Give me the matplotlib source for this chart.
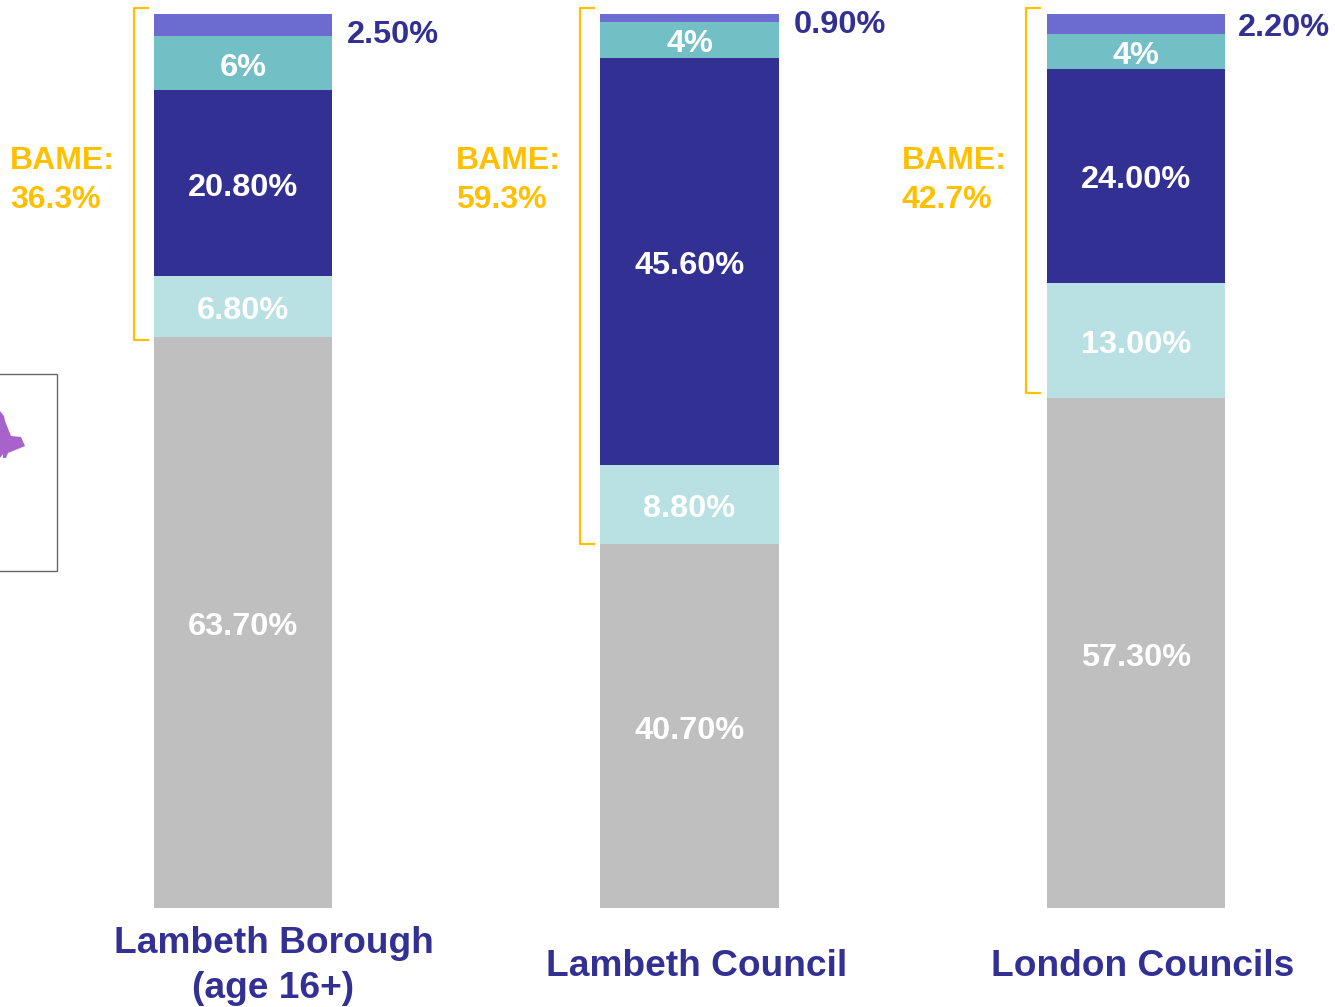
import matplotlib
matplotlib.use("Agg")
import matplotlib.pyplot as plt
from matplotlib.patches import Polygon, Rectangle

W, H = 1335, 1007

categories = ["Lambeth Borough\n(age 16+)", "Lambeth Council", "London Councils"]
white = [63.7, 40.7, 57.3]
mixed = [6.8, 8.8, 13.0]
black = [20.8, 45.6, 24.0]
asian = [6.0, 4.0, 4.0]
other = [2.5, 0.9, 2.2]
white_lab = ["63.70%", "40.70%", "57.30%"]
mixed_lab = ["6.80%", "8.80%", "13.00%"]
black_lab = ["20.80%", "45.60%", "24.00%"]
asian_lab = ["6%", "4%", "4%"]
other_lab = ["2.50%", "0.90%", "2.20%"]
bame_lab = ["BAME:\n36.3%", "BAME:\n59.3%", "BAME:\n42.7%"]

GREY = "#BFBFBF"
LIGHT = "#B9E0E2"
NAVY = "#333094"
TEAL = "#72BFC5"
PURPLE = "#6C6CD0"
GOLD = "#FFC000"

plt.rcParams["font.family"] = ["Liberation Sans", "DejaVu Sans"]
plt.rcParams["font.weight"] = "bold"

fig = plt.figure(figsize=(W / 100, H / 100), dpi=100)
ax = fig.add_axes([0, 0, 1, 1])
# spacing between bars is 446.5 px, full stack is 894 px
ax.set_xlim(-243 / 446.5, (W - 243) / 446.5)
ax.set_ylim((908 - H) / 8.94, 908 / 8.94)
ax.axis("off")


def px(x, y):
    return x / W, 1 - y / H


# little map box that is cut off on the left
fig.add_artist(Rectangle((-0.01, px(0, 571)[1]), 57 / W + 0.01, 197 / H,
                         fill=False, ec="#666666", lw=1, transform=fig.transFigure))
blob = [(-2, 411), (0, 411), (4, 416), (5, 421), (11, 436), (21, 437), (25, 446), (8, 453),
        (6, 458), (3, 458), (3, 454), (0, 458), (-2, 458)]
fig.add_artist(Polygon([px(*p) for p in blob], fc="#A862CC", ec="none", transform=fig.transFigure))

x = range(3)
# the bars are 100% stacked, the printed values do not always add up to 100
totals = [a + b + c + d + e for a, b, c, d, e in zip(white, mixed, black, asian, other)]
bottom = [0, 0, 0]
stack = [(white, GREY, white_lab), (mixed, LIGHT, mixed_lab), (black, NAVY, black_lab),
         (asian, TEAL, asian_lab), (other, PURPLE, None)]
for vals, col, labs in stack:
    vals = [v / t * 100 for v, t in zip(vals, totals)]
    ax.bar(x, vals, 0.4, bottom=bottom, color=col, linewidth=0)
    if labs:
        for i, v in enumerate(vals):
            ax.text(i, bottom[i] + v / 2 - 0.5, labs[i], color="white", fontsize=23.4,
                    ha="center", va="center")
    bottom = [b + v for b, v in zip(bottom, vals)]

# outside labels for the top segment
other_x = [347, 794, 1238]
other_y = [35, 25, 28]
for i in x:
    fig.text(*px(other_x[i], other_y[i]), other_lab[i], color=NAVY, fontsize=23.4, ha="left", va="center")

# brackets and BAME totals
br_left = [134, 580, 1026]
br_bottom = [340, 544, 393]
bame_x = [10, 456, 902]
for i in x:
    pts = [px(br_left[i] + 14, 8), px(br_left[i], 8), px(br_left[i], br_bottom[i]), px(br_left[i] + 14, br_bottom[i])]
    fig.add_artist(plt.Line2D([p[0] for p in pts], [p[1] for p in pts], color=GOLD, lw=1.6,
                              transform=fig.transFigure))
    fig.text(*px(bame_x[i], 180.5), bame_lab[i], color=GOLD, fontsize=23, ha="left", va="center",
             linespacing=1.38)

# category names
cat_x = [273.5, 697, 1143]
cat_y = [966, 966, 966]
for i in x:
    fig.text(*px(cat_x[i], cat_y[i]), categories[i], color=NAVY, fontsize=26.7, ha="center",
             va="center", linespacing=1.36)

fig.savefig("out.png", dpi=100)
